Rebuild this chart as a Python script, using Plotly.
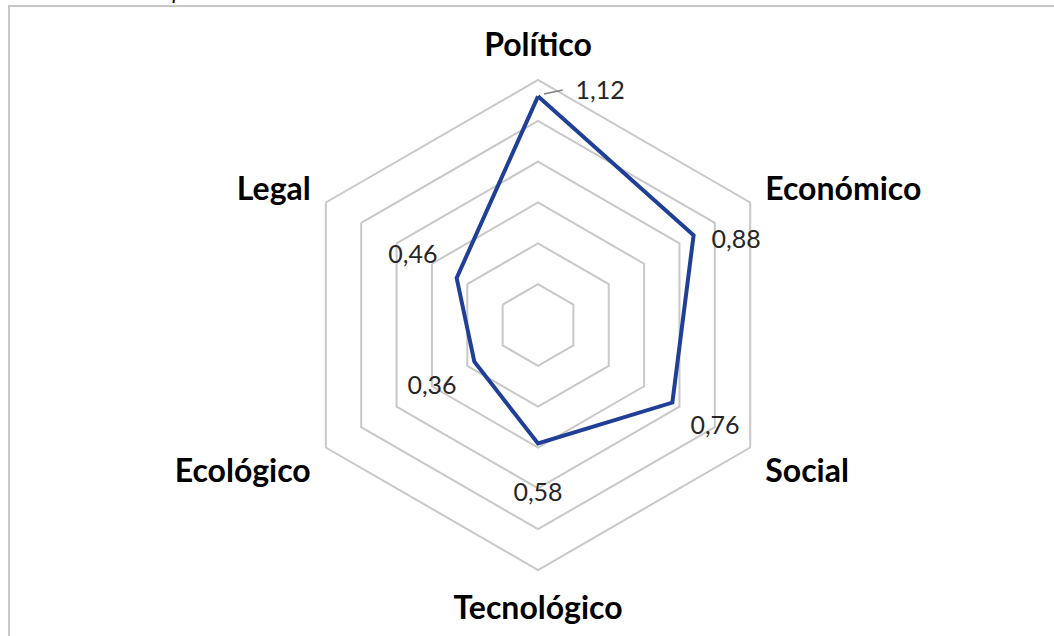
import plotly.graph_objects as go

# Data
categories = ["Político", "Económico", "Social", "Tecnológico", "Ecológico", "Legal"]
values = [1.12, 0.88, 0.76, 0.58, 0.36, 0.46]
value_text = ["1,12", "0,88", "0,76", "0,58", "0,36", "0,46"]

W, H = 1054, 636
grid_col = "#c8c8c8"
line_col = "#203f96"

# polar area in pixels (centre 538,325 radius 245)
cx, cy, rad = 538, 325, 245
dom_x = [(cx - rad) / W, (cx + rad) / W]
dom_y = [1 - (cy + rad) / H, 1 - (cy - rad) / H]

fig = go.Figure()

# main line, closed
fig.add_trace(go.Scatterpolar(
    r=values + values[:1],
    theta=categories + categories[:1],
    mode="lines",
    line=dict(color=line_col, width=4),
    hoverinfo="skip",
    showlegend=False,
    subplot="polar"
))

# data labels on an overlaid numeric polar (same size), pushed outward
step = 360 / len(categories)
d_r = [0.056, 0.172, 0.243, 0.253, 0.244, 0.237]
d_t = [15, 7.3, 0.2, 0, -0.7, -1.5]
lab_r = [v + a for v, a in zip(values, d_r)]
lab_t = [i * step + b for i, b in enumerate(d_t)]

fig.add_trace(go.Scatterpolar(
    r=lab_r,
    theta=lab_t,
    mode="text",
    text=value_text,
    textfont=dict(family="Lato", size=25, color="#262626"),
    hoverinfo="skip",
    showlegend=False,
    subplot="polar2"
))

# small leader line for the Político label
fig.add_trace(go.Scatterpolar(
    r=[values[0] + 0.012, values[0] + 0.037],
    theta=[1.5, 6.0],
    mode="lines",
    line=dict(color="#7f7f7f", width=1.5),
    hoverinfo="skip",
    showlegend=False,
    subplot="polar2"
))

fig.update_layout(
    width=W,
    height=H,
    margin=dict(l=0, r=0, t=0, b=0),
    paper_bgcolor="white",
    plot_bgcolor="white",
    polar=dict(
        domain=dict(x=dom_x, y=dom_y),
        gridshape="linear",
        bgcolor="rgba(0,0,0,0)",
        radialaxis=dict(
            range=[0, 1.2],
            dtick=0.2,
            showticklabels=False,
            ticks="",
            showline=False,
            gridcolor=grid_col,
            gridwidth=2,
        ),
        angularaxis=dict(
            rotation=90,
            direction="clockwise",
            showgrid=False,
            showline=True,
            linecolor=grid_col,
            linewidth=2,
            ticks="outside",
            ticklen=10,
            tickcolor="rgba(0,0,0,0)",
            tickfont=dict(family="Lato", size=32, color="black", weight="bold"),
        ),
    ),
    polar2=dict(
        domain=dict(x=dom_x, y=dom_y),
        bgcolor="rgba(0,0,0,0)",
        radialaxis=dict(range=[0, 1.2], visible=False),
        angularaxis=dict(
            rotation=90,
            direction="clockwise",
            visible=False,
        ),
    ),
)

# frame round the chart (cropped at right and bottom)
fig.add_shape(
    type="rect", xref="paper", yref="paper",
    x0=9 / W, x1=1.05, y0=-0.05, y1=1 - 6 / H,
    line=dict(color=grid_col, width=2),
    layer="below"
)

# caption above the frame, cut off by the top edge like in the source image
fig.add_annotation(
    text="<i>Análisis de impacto PESTEL</i>",
    xref="paper", yref="paper",
    x=45 / W, y=1 + 25 / H,
    xanchor="left", yanchor="top",
    showarrow=False,
    font=dict(family="Lato", size=22, color="black"),
)

fig.write_html(
    "out.html",
    config={"displayModeBar": False},
    post_script="document.body.style.margin='0';",
)
